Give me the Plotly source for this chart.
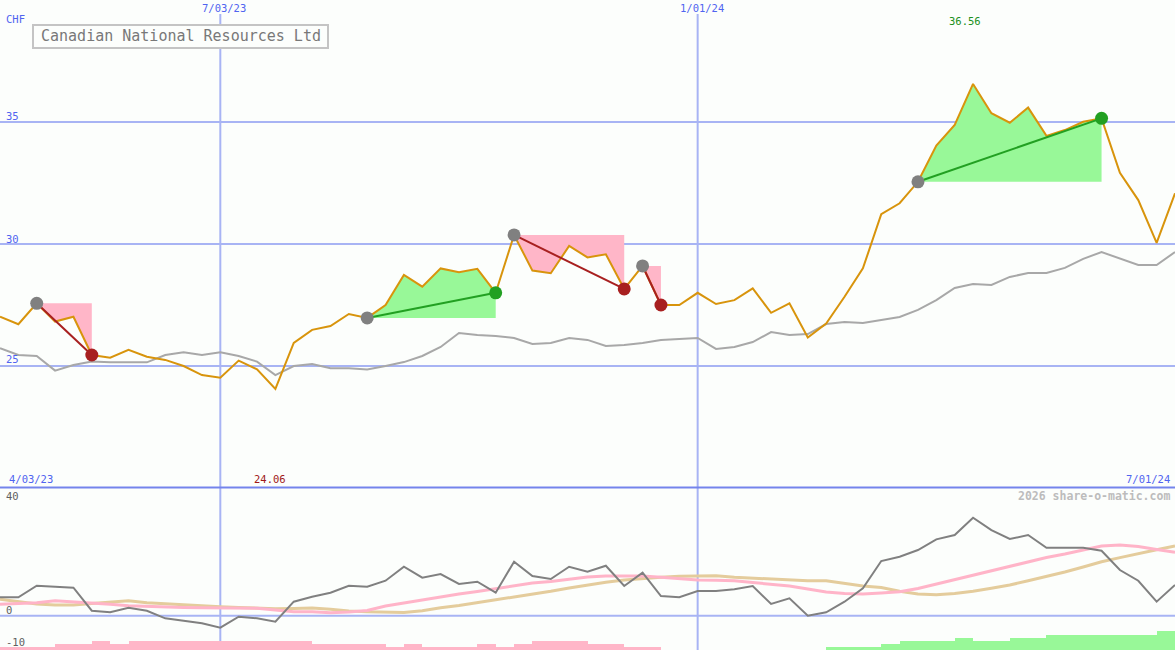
import pandas as pd
import plotly.graph_objects as go

# ---------------- data ----------------
dates = pd.date_range("2023-04-10", periods=65, freq="7D")

price = [27.02, 26.71, 27.57, 26.82, 27.02, 25.45, 25.34, 25.66, 25.38, 25.25,
         25.00, 24.63, 24.52, 25.22, 24.86, 24.06, 25.95, 26.48, 26.64, 27.13,
         26.97, 27.50, 28.73, 28.25, 29.00, 28.84, 28.98, 28.00, 30.37, 28.91,
         28.80, 29.92, 29.45, 29.58, 28.16, 29.10, 27.50, 27.50, 28.00, 27.54,
         27.70, 28.18, 27.18, 27.57, 26.17, 26.74, 27.84, 29.00, 31.22, 31.67,
         32.55, 34.03, 34.88, 36.56, 35.36, 34.97, 35.59, 34.43, 34.67, 35.01,
         35.15, 32.92, 31.80, 30.05, 32.08]

avg = [25.73, 25.45, 25.41, 24.81, 25.04, 25.18, 25.15, 25.15, 25.15, 25.45,
       25.56, 25.45, 25.56, 25.41, 25.18, 24.63, 25.00, 25.08, 24.91, 24.91,
       24.86, 25.00, 25.16, 25.41, 25.78, 26.35, 26.27, 26.23, 26.15, 25.90,
       25.94, 26.15, 26.07, 25.82, 25.86, 25.94, 26.07, 26.11, 26.15, 25.70,
       25.78, 25.98, 26.39, 26.27, 26.31, 26.72, 26.80, 26.76, 26.89, 27.01,
       27.30, 27.70, 28.20, 28.36, 28.32, 28.65, 28.81, 28.81, 29.02, 29.39,
       29.67, 29.39, 29.14, 29.14, 29.67]

osc = [6.24, 6.24, 10.17, 9.83, 9.49, 1.69, 1.15, 2.71, 1.69, -0.88,
       -1.69, -2.58, -4.07, -0.34, -0.88, -2.03, 4.75, 6.44, 7.80, 10.17,
       9.83, 11.86, 16.61, 12.88, 14.14, 10.75, 11.53, 7.80, 18.31, 13.46,
       12.44, 16.61, 14.92, 16.95, 10.07, 14.58, 6.68, 6.24, 8.37, 8.37,
       8.95, 10.07, 3.97, 5.90, 0.00, 1.15, 4.75, 9.29, 18.54, 20.00,
       22.27, 25.90, 27.36, 33.22, 29.05, 26.00, 27.36, 23.05, 23.05, 23.05,
       22.03, 15.49, 11.86, 4.75, 10.41]

osc_fast = [3.86, 4.14, 4.41, 5.08, 4.75, 4.20, 3.86, 3.39, 3.12, 3.05,
            2.78, 2.71, 2.61, 2.51, 2.51, 1.93, 1.36, 1.36, 1.02, 1.25,
            1.76, 3.29, 4.31, 5.42, 6.51, 7.36, 8.20, 9.22, 10.07, 11.08,
            11.59, 12.44, 13.12, 13.46, 13.53, 13.46, 13.02, 12.61, 12.10, 12.00,
            11.86, 11.25, 10.64, 10.07, 9.05, 8.03, 7.53, 7.36, 7.69, 8.10,
            9.22, 10.75, 12.27, 13.63, 15.15, 16.75, 18.37, 19.73, 20.92, 22.27,
            23.63, 23.97, 23.46, 22.44, 21.53]

osc_slow = [5.56, 4.75, 3.97, 3.63, 3.63, 4.14, 4.64, 5.08, 4.41, 4.03,
            3.56, 3.19, 3.05, 2.81, 2.47, 2.34, 2.47, 2.61, 2.20, 1.63,
            1.36, 1.19, 1.12, 1.66, 2.71, 3.46, 4.54, 5.42, 6.34, 7.19,
            8.27, 9.39, 10.47, 11.36, 12.10, 12.64, 13.02, 13.36, 13.56, 13.56,
            13.02, 12.68, 12.37, 12.03, 11.86, 11.86, 11.08, 10.07, 9.56, 8.27,
            7.36, 7.08, 7.53, 8.27, 9.29, 10.41, 11.83, 13.29, 14.81, 16.51,
            18.31, 19.69, 21.15, 22.37, 23.63]

# weekly histogram (one per interval between points); negative = pink, positive = green
hist = [-0.9, -0.9, -0.9, -2.0, -2.0, -3.0, -2.0, -3.0, -3.0, -3.0,
        -3.0, -3.0, -3.0, -3.0, -3.0, -3.0, -3.0, -2.0, -2.0, -2.0,
        -2.0, -0.9, -2.0, -0.9, -0.9, -0.9, -2.0, -0.9, -2.0, -3.0,
        -3.0, -3.0, -2.0, -2.0, -0.9, -0.9, 0, 0, 0, 0,
        0, 0, 0, 0, 0, 0.9, 0.9, 0.9, 2.0, 3.0,
        3.0, 3.0, 4.0, 3.0, 3.0, 4.0, 4.0, 5.1, 5.1, 5.1,
        5.1, 5.1, 5.1, 6.4]

# trade signals: (start index, end index, kind)
signals = [(2, 5, "down"), (20, 27, "up"), (28, 34, "down"), (35, 36, "down"), (50, 60, "up")]

title_text = "Canadian National Resources Ltd"
currency = "CHF"
price_ticks = [25, 30, 35]
osc_ticks = [40, 0, -10]
top_date_labels = [("2023-07-03", "7/03/23"), ("2024-01-01", "1/01/24")]
range_start_label = "4/03/23"
range_end_label = "7/01/24"
credit = "2026 share-o-matic.com"

# ---------------- style ----------------
W, H = 1175, 650
BG = "#fcfefc"
GRID = "#a8b4f4"
SEP = "#7484ec"
BLUE_TXT = "#5064f0"
ORANGE = "#d8940c"
MA_GRAY = "#a8a8a8"
PINK = "#ffb6c8"
GREEN = "#98f898"
RED_M = "#a82020"
GREEN_M = "#22a022"
FONT = "DejaVu Sans Mono"

TOP_RANGE = [20, 40]
BOT_RANGE = [-11.63, 43.3]
SPLIT = 1 - 488 / H

def px(x):
    return x / W

def py(y):
    return 1 - y / H

fig = go.Figure()

# signal fills
for s, e, kind in signals:
    xs = list(dates[s:e + 1]) + [dates[e], dates[s]]
    ys = price[s:e + 1] + [price[s], price[s]]
    fig.add_trace(go.Scatter(x=xs, y=ys, fill="toself", mode="none",
                             fillcolor=PINK if kind == "down" else GREEN,
                             hoverinfo="skip", showlegend=False, yaxis="y"))

fig.add_trace(go.Scatter(x=dates, y=avg, mode="lines", line=dict(color=MA_GRAY, width=2),
                         showlegend=False, yaxis="y"))
fig.add_trace(go.Scatter(x=dates, y=price, mode="lines", line=dict(color=ORANGE, width=2),
                         showlegend=False, yaxis="y"))

for s, e, kind in signals:
    col = RED_M if kind == "down" else GREEN_M
    fig.add_trace(go.Scatter(x=[dates[s], dates[e]], y=[price[s], price[e]], mode="lines",
                             line=dict(color=col, width=2), showlegend=False, yaxis="y"))
for s, e, kind in signals:
    col = RED_M if kind == "down" else GREEN_M
    fig.add_trace(go.Scatter(x=[dates[s], dates[e]], y=[price[s], price[e]], mode="markers",
                             marker=dict(color=["#808080", col], size=13, line=dict(width=0)),
                             showlegend=False, yaxis="y"))

# lower panel
bar_x = [d + pd.Timedelta(hours=84) for d in dates[:len(hist)]]
fig.add_trace(go.Bar(x=bar_x, y=[abs(h) for h in hist], base=BOT_RANGE[0],
                     width=7 * 86400000,
                     marker=dict(color=[PINK if h < 0 else GREEN for h in hist], line=dict(width=0)),
                     showlegend=False, yaxis="y2"))
fig.add_trace(go.Scatter(x=dates, y=osc_slow, mode="lines", line=dict(color="#e4cc9c", width=3),
                         showlegend=False, yaxis="y2"))
fig.add_trace(go.Scatter(x=dates, y=osc_fast, mode="lines", line=dict(color="#ffb4c8", width=3),
                         showlegend=False, yaxis="y2"))
fig.add_trace(go.Scatter(x=dates, y=osc, mode="lines", line=dict(color="#808080", width=2),
                         showlegend=False, yaxis="y2"))

shapes = []
for v in price_ticks:
    shapes.append(dict(type="line", xref="paper", yref="y", x0=0, x1=1, y0=v, y1=v,
                       line=dict(color=GRID, width=2), layer="below"))
shapes.append(dict(type="line", xref="paper", yref="y2", x0=0, x1=1, y0=0, y1=0,
                   line=dict(color=GRID, width=2), layer="below"))
for d, _ in top_date_labels:
    shapes.append(dict(type="line", xref="x", yref="paper", x0=d, x1=d, y0=0, y1=py(14),
                       line=dict(color=GRID, width=2), layer="below"))
shapes.append(dict(type="line", xref="paper", yref="paper", x0=0, x1=1, y0=py(487.5), y1=py(487.5),
                   line=dict(color=SEP, width=2), layer="below"))
shapes.append(dict(type="rect", xref="paper", yref="paper", x0=px(33), x1=px(328), y0=py(48), y1=py(25),
                   line=dict(color="#c4c4c4", width=2), fillcolor=BG, layer="above"))

anns = []
def ann(text, x, y, color, size=10.5, xanchor="left", weight="normal"):
    anns.append(dict(text=text, x=px(x), y=py(y), xref="paper", yref="paper",
                     xanchor=xanchor, yanchor="middle", showarrow=False,
                     font=dict(family=FONT, size=size, color=color, weight=weight)))

ann(title_text, 180.5, 36.5, "#787878", size=15, xanchor="center")
ann(currency, 4, 19, BLUE_TXT)
ann(str(price_ticks[2]), 4, 116.5, BLUE_TXT)
ann(str(price_ticks[1]), 4, 238.5, BLUE_TXT)
ann(str(price_ticks[0]), 4, 359.5, BLUE_TXT)
for d, lab in top_date_labels:
    anns.append(dict(text=lab, x=pd.Timestamp(d) + pd.Timedelta(days=1.5), y=py(8), xref="x", yref="paper",
                     xanchor="center", yanchor="middle", showarrow=False,
                     font=dict(family=FONT, size=10.5, color=BLUE_TXT)))
imax = price.index(max(price))
imin = price.index(min(price))
anns.append(dict(text=f"{max(price):.2f}", x=dates[imax] - pd.Timedelta(days=3), y=py(21), xref="x", yref="paper",
                 xanchor="center", yanchor="middle", showarrow=False,
                 font=dict(family=FONT, size=10.5, color="#209020")))
anns.append(dict(text=f"{min(price):.2f}", x=dates[imin] - pd.Timedelta(days=2), y=py(479), xref="x", yref="paper",
                 xanchor="center", yanchor="middle", showarrow=False,
                 font=dict(family=FONT, size=10.5, color="#a01818")))
ann(range_start_label, 7, 479, BLUE_TXT)
ann(range_end_label, 1172, 479, BLUE_TXT, xanchor="right")
ann(credit, 1172, 496, "#bcbcbc", size=11.5, xanchor="right", weight="bold")
ann(str(osc_ticks[0]), 4, 496, "#606060")
ann(str(osc_ticks[1]), 4, 610, "#606060")
ann(str(osc_ticks[2]), 4, 642, "#606060")

fig.update_layout(
    width=W, height=H, margin=dict(l=0, r=0, t=0, b=0),
    paper_bgcolor=BG, plot_bgcolor=BG,
    xaxis=dict(range=[dates[0], dates[-1]], visible=False, showgrid=False, zeroline=False, fixedrange=True),
    yaxis=dict(domain=[SPLIT, 1], range=TOP_RANGE, visible=False, showgrid=False, zeroline=False),
    yaxis2=dict(domain=[0, SPLIT], range=BOT_RANGE, visible=False, showgrid=False, zeroline=False),
    shapes=shapes, annotations=anns, bargap=0, showlegend=False,
)

fig.write_html("out.html", config={"displayModeBar": False},
               post_script="document.body.style.margin='0';document.body.style.overflow='hidden';document.body.style.background='%s';" % BG)
